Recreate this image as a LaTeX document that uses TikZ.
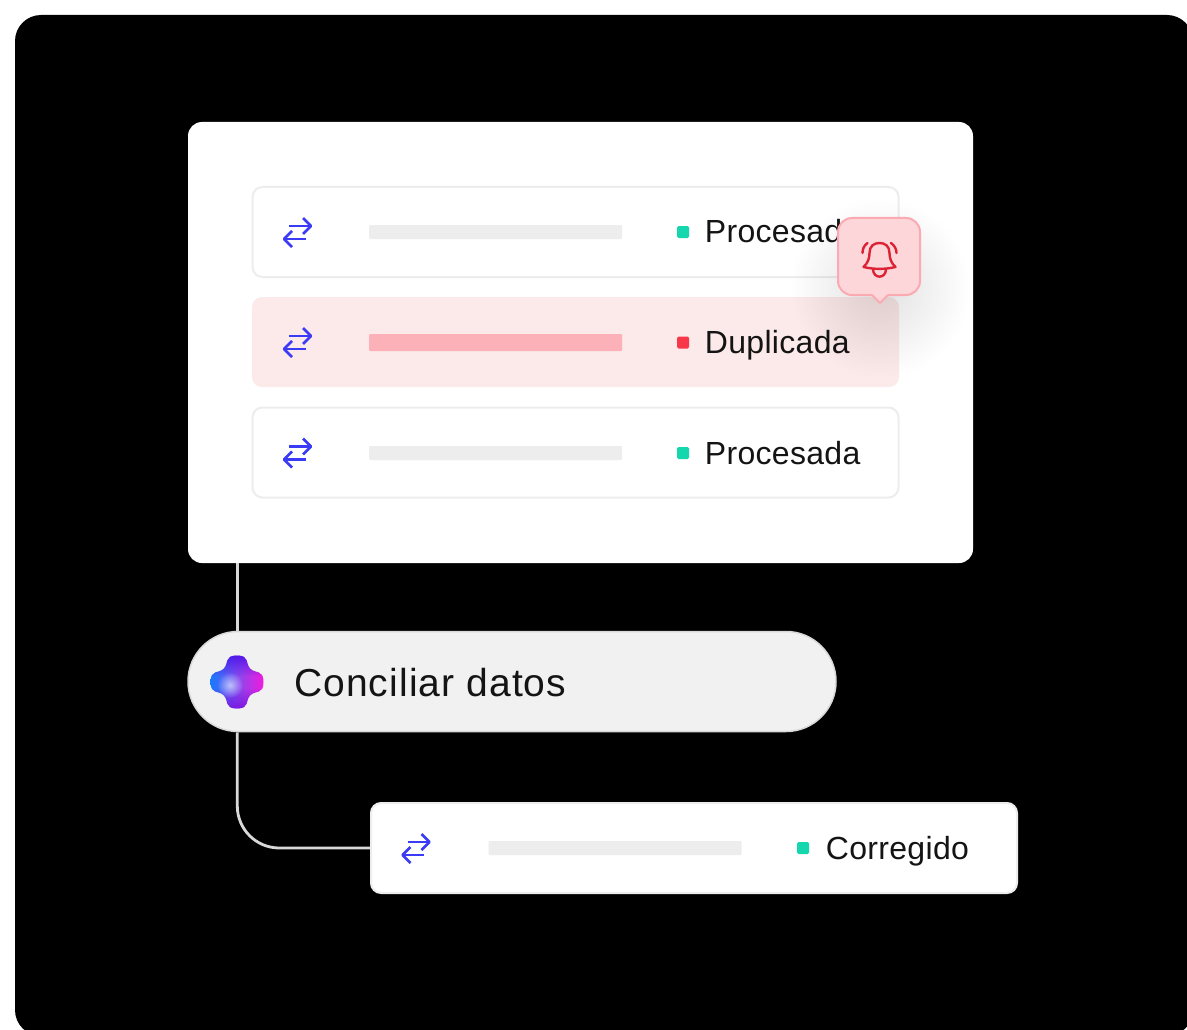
\documentclass[tikz,border=0pt]{standalone}
\usepackage{fontspec}
\setmainfont{Liberation Sans}
\usetikzlibrary{positioning,fadings,arrows.meta}

\tikzfading[name=softglow, inner color=transparent!88, outer color=transparent!100]
\tikzfading[name=coreglow, inner color=transparent!25, outer color=transparent!100]

\definecolor{rowline}{HTML}{EDEDED}
\definecolor{rowalert}{HTML}{FCE9E9}
\definecolor{baralert}{HTML}{FCB0B8}
\definecolor{okdot}{HTML}{14D7AE}
\definecolor{baddot}{HTML}{F8384A}
\definecolor{swapblue}{HTML}{3B3BF5}
\definecolor{pillfill}{HTML}{F1F1F1}
\definecolor{pillline}{HTML}{D8D8D8}
\definecolor{bellfill}{HTML}{FDD6DA}
\definecolor{bellline}{HTML}{FCAAB2}
\definecolor{bellred}{HTML}{DC2335}
\definecolor{inktext}{HTML}{141414}
\definecolor{logoblue}{HTML}{0A80FF}
\definecolor{logopink}{HTML}{FF14DC}
\definecolor{logotop}{HTML}{4A10E8}
\definecolor{logolow}{HTML}{7A10E0}
\definecolor{logocore}{HTML}{D8E4FF}

\tikzset{
  rowbox/.style={draw=rowline, line width=2pt, fill=white, rounded corners=10pt, minimum width=646pt, minimum height=90pt, inner sep=0pt},
  barbox/.style={fill=rowline, rounded corners=1pt, minimum width=253pt, minimum height=14pt, inner sep=0pt},
  dotbox/.style={fill=okdot, rounded corners=1.5pt, minimum size=12pt, inner sep=0pt},
  rowtext/.style={text=inktext, font=\fontsize{32}{36}\selectfont\addfontfeatures{LetterSpace=1}, text height=22pt, text depth=0pt, inner sep=0pt, anchor=west},
  swapicon/.pic={
    \draw[swapblue, line width=2.8pt] (-8.5,-6.5) -- (13.5,-6.5);
    \draw[swapblue, line width=2.8pt, line join=round] (5.5,-14.5) -- (13.5,-6.5) -- (5.5,1.5);
    \draw[swapblue, line width=2.8pt] (8,6.5) -- (-13.5,6.5);
    \draw[swapblue, line width=2.8pt, line join=round] (-5.5,-1.5) -- (-13.5,6.5) -- (-5.5,14.5);
  }
}

\begin{document}
\begin{tikzpicture}[x=1pt, y=-1pt]
    \useasboundingbox (0,0) rectangle (1187,1030);
    \fill[white] (0,0) rectangle (1187,1030);
    \fill[black, rounded corners=26pt] (15,15) rectangle (1193,1036);

    % connectors behind the cards
    \coordinate (trunk) at (237.3,600);

    \node[fill=white, rounded corners=14pt, minimum width=785pt, minimum height=441pt, inner sep=0pt] (panel) at (580.5,342.5) {};
    \node[fill=pillfill, draw=pillline, line width=1.5pt, rounded corners=50pt, minimum width=648pt, minimum height=100pt, inner sep=0pt] (pill) at (512,681.5) {};
    \node[rowbox] (fixrow) at (694,848) {};

    \draw[pillline, line width=2.8pt] (panel.south -| trunk) -- (pill.north -| trunk);
    \draw[pillline, line width=2.8pt, rounded corners=42pt] (pill.south -| trunk) |- (fixrow.west);

    % table rows
    \node[rowbox] (row_a) at (575.5,232) {};
    \node[rowbox, draw=none, fill=rowalert, minimum width=647pt] (row_b) at (575.5,342) {};
    \node[rowbox] (row_c) at (575.5,452.5) {};

    \pic at (297.5,232.5) {swapicon};
    \pic at (297.5,342.5) {swapicon};
    \pic at (297.5,453) {swapicon};
    \pic at (416,848.5) {swapicon};

    \node[barbox] (bar_a) at (495.5,232) {};
    \node[barbox, fill=baralert, minimum height=17pt] (bar_b) at (495.5,342.5) {};
    \node[barbox] (bar_c) at (495.5,453) {};
    \node[barbox] (bar_d) at (615,848) {};

    \node[dotbox] (dot_a) at (683,232) {};
    \node[dotbox, fill=baddot] (dot_b) at (683,342.5) {};
    \node[dotbox] (dot_c) at (683,453) {};
    \node[dotbox] (dot_d) at (803,848) {};

    \node[rowtext, right=15.5pt of dot_a] (text_a) {Procesada};
    \node[rowtext, right=15.5pt of dot_b] (text_b) {Duplicada};
    \node[rowtext, right=15.5pt of dot_c] (text_c) {Procesada};
    \node[rowtext, right=16.5pt of dot_d] (text_d) {Corregido};

    % bell callout
    \fill[black, path fading=softglow] (880,288) circle (90);
    \draw[bellline, fill=bellfill, line width=2pt, rounded corners=14pt]
        (880,295) -- (838,295) -- (838,218) -- (920,218) -- (920,295) -- cycle;
    \fill[bellfill] (871,293) -- (889,293) -- (880,302) -- cycle;
    \draw[bellline, line width=2pt, line join=round] (872,295) -- (880,303) -- (888,295);
    \draw[bellred, line width=2.4pt, line join=round, line cap=round]
        (863.5,267) .. controls (868,263) and (869.5,258) .. (869.5,253)
        .. controls (869.5,246) and (874,243) .. (879.5,243)
        .. controls (885,243) and (889.5,246) .. (889.5,253)
        .. controls (889.5,258) and (891,263) .. (895.5,267)
        .. controls (885,269.5) and (874,269.5) .. (863.5,267) -- cycle;
    \draw[bellred, line width=2.4pt, line cap=round] (873,269.5) .. controls (873.5,279) and (885.5,279) .. (886,269.5);
    \draw[bellred, line width=2.4pt, line cap=round] (867.5,243) .. controls (864,245.5) and (862.5,249) .. (862.5,253);
    \draw[bellred, line width=2.4pt, line cap=round] (891,243) .. controls (894.5,245.5) and (896.5,249) .. (896.5,253);

    % pill label and logo
    \begin{scope}[shift={(237,682)}]
        \clip (0,-26.5)
            .. controls (13,-26.5) and (8,-18.5) .. (13.3,-13.3)
            .. controls (18.5,-8) and (26.5,-13) .. (26.5,0)
            .. controls (26.5,13) and (18.5,8) .. (13.3,13.3)
            .. controls (8,18.5) and (13,26.5) .. (0,26.5)
            .. controls (-13,26.5) and (-8,18.5) .. (-13.3,13.3)
            .. controls (-18.5,8) and (-26.5,13) .. (-26.5,0)
            .. controls (-26.5,-13) and (-18.5,-8) .. (-13.3,-13.3)
            .. controls (-8,-18.5) and (-13,-26.5) .. (0,-26.5) -- cycle;
        \shade[left color=logoblue, right color=logopink] (-30,-30) rectangle (30,30);
        \fill[logotop, path fading=south] (-30,-30) rectangle (30,-6);
        \fill[logolow, path fading=north] (-30,6) rectangle (30,30);
        \fill[logocore, path fading=coreglow] (-7,3) circle (13);
    \end{scope}
    \node[text=inktext, font=\fontsize{39}{43}\selectfont\addfontfeatures{LetterSpace=2.8}, inner sep=0pt, anchor=west] (pill_text) at (294,683) {Conciliar datos};
\end{tikzpicture}
\end{document}
